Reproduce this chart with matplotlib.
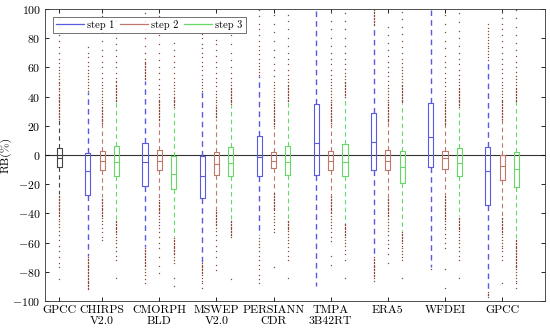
import matplotlib
matplotlib.use("Agg")
import matplotlib.pyplot as plt
from matplotlib.lines import Line2D

plt.rcParams['font.family'] = ['cmr10', 'DejaVu Serif']
plt.rcParams['axes.unicode_minus'] = False
plt.rcParams['axes.formatter.use_mathtext'] = True
plt.rcParams['mathtext.fontset'] = 'cm'

# ---------------- data ----------------
tick_labels = ['GPCC', 'CHIRPS\nV2.0', 'CMORPH\nBLD', 'MSWEP\nV2.0', 'PERSIANN\nCDR',
               'TMPA\n3B42RT', 'ERA5', 'WFDEI', 'GPCC']
series_names = ['step 1', 'step 2', 'step 3']
# box order: reference GPCC, then step1/2/3 for each of the 8 products
box_series = [-1] + [0, 1, 2] * 8

q3 = [4.5,
      1.1, 2.7, 6.3,
      7.9, 3.2, -0.7,
      -0.5, 1.8, 5.2,
      13.3, 2.2, 6.5,
      35.2, 2.5, 7.2,
      29.0, 3.2, 2.9,
      35.7, 2.9, 4.7,
      5.2, -0.2, 1.8]
med = [-2.0,
       -10.8, -3.8, -4.5,
       -4.5, -4.0, -13.0,
       -14.6, -6.1, -5.2,
       -1.6, -3.8, -4.5,
       8.3, -3.8, -4.5,
       9.2, -3.8, -8.3,
       12.3, -2.2, -5.2,
       -11.0, -7.6, -9.5]
q1 = [-8.3,
      -27.2, -10.1, -14.1,
      -21.1, -10.6, -23.1,
      -29.6, -13.7, -14.6,
      -14.1, -9.0, -13.7,
      -13.7, -10.1, -14.6,
      -10.3, -10.1, -19.1,
      -8.3, -9.4, -14.1,
      -34.1, -17.3, -21.8]
whis_hi = [24,
           43, 22, 36.5,
           51, 23.5, 32.5,
           43, 25, 34.5,
           54, 19, 36.5,
           99, 21, 39.5,
           88, 23, 35.5,
           99, 21, 32.5,
           64, 25, 37]
whis_lo = [-27,
           -69.5, -29, -44.5,
           -63, -31, -56.5,
           -73, -37, -44,
           -55, -25.5, -44,
           -90, -29, -47,
           -69.5, -30, -52,
           -77, -27.5, -42,
           -93, -43, -57]

out_hi = [
    [25,26,27,28,29,30,31,32,33,34,35,36,37,38,39,40,41,42,44,45,46,48,49,50,52,54,56,58,60,63,66,70,74,78,82,88,93],
    [44,46,48,50,52,54,56,58,61,64,67,70,74],
    [22,23,24,25,26,27,28,29,30,31,32,33,35,36,38,40,42,44,46,48,50,53,56,60,64,68,72,78,84,90,95],
    [37,38,39,40,41,42,43,44,45,46,47,48,50,51,53,56,60,64,68,72,76,80,86,92],
    [52,53,54,55,56,57,58,59,60,61,62,63,64,66,70,75,80,86,92,97],
    [24,25,26,27,28,29,30,31,32,33,34,35,36,37,38,40,42,45,48,52,56,60,65,70,76,82,88,95],
    [33,34,35,36,37,38,39,40,42,44,46,48,50,53,56,60,64,68,72,77],
    [44,46,48,50,52,55,58,61,64,67,70,73,76,80,83],
    [26,27,28,29,30,31,32,33,34,36,38,40,42,44,47,50,53,56,60,64,68,72,76,79],
    [35,36,37,38,39,40,41,42,43,44,45,46,48,50,53,56,60,65,70,76,82,88],
    [55,57,59,61,63,66,69,72,75,78,82,86,90,95,99],
    [20,21,22,23,24,25,26,27,28,29,30,31,32,33,34,35,36,38,40,42,44,46,48,50,54,58,62,67,72,78,84,90,96],
    [37,38,39,40,41,42,43,44,45,46,47,48,50,52,55,58,62,66,70,75,80,86,92,96],
    [],
    [22,23,24,25,26,27,28,29,30,31,32,33,34,35,36,38,40,42,44,46,48,50,52,55,58,62,66,70,75,80,86,92,98],
    [40,41,42,43,44,45,46,47,48,49,50,52,54,56,59,62,66,70,75,80,86,92,97],
    [89,90,91,92,93,94,95,96,97,98,99],
    [23,24,25,26,27,28,29,30,31,32,33,34,35,36,38,40,42,44,46,48,51,54,57,60,64,68,72,77,82,88],
    [36,37,38,39,40,41,42,43,44,45,46,47,48,50,52,54,56,58,60,63,66,70,74,78,83,88,93,98],
    [],
    [21,22,23,24,25,26,27,28,29,30,31,32,33,34,35,36,38,40,42,44,47,50,53,56,60,64,68,73,78,84,90,96],
    [33,34,35,36,37,38,39,40,41,42,43,44,45,46,48,50,52,55,58,62,66,70,75,80,85,91,97],
    [65,67,69,71,73,75,77,79,81,83,85,87,90],
    [25,26,27,28,29,30,31,32,33,34,35,36,37,38,40,42,44,46,48,50,53,56,59,62,66,70,74,78,82,86,90,94,98],
    [37,38,39,40,41,42,43,44,45,46,48,50,52,54,57,60,64,68,72,77,82,88,94,99],
]
out_lo = [
    [-28,-29,-30,-31,-32,-33,-34,-35,-36,-37,-38,-39,-40,-41,-42,-44,-45,-47,-49,-52,-55,-58,-62,-66,-70,-74,-77,-85],
    [-70,-71,-72,-73,-74,-75,-76,-77,-78,-79,-80,-81,-82,-83,-84,-85,-86,-87,-88,-89,-90,-91,-92],
    [-30,-31,-32,-33,-34,-35,-36,-37,-38,-39,-40,-41,-42,-43,-45,-47,-50,-53,-56,-58],
    [-45,-46,-47,-48,-49,-50,-51,-52,-53,-54,-56,-58,-60,-63,-66,-69,-72,-84],
    [-64,-65,-66,-67,-68,-69,-70,-71,-72,-73,-74,-75,-76,-78,-80,-82,-85,-88],
    [-31,-32,-33,-34,-35,-36,-37,-38,-39,-40,-42,-44,-46,-48,-50,-53,-56,-60,-64,-70,-76,-81],
    [-57,-58,-59,-60,-61,-62,-63,-64,-65,-66,-67,-68,-70,-72,-74,-84,-90],
    [-74,-75,-76,-77,-78,-79,-80,-81,-82,-84,-86,-88,-91],
    [-38,-39,-40,-41,-42,-43,-44,-45,-46,-47,-48,-50,-52,-55,-58,-62,-66,-70,-75,-79],
    [-45,-46,-47,-48,-49,-50,-51,-52,-53,-54,-55,-56,-85],
    [-57,-59,-61,-63,-66,-69,-72,-75,-78,-82,-85,-88],
    [-26,-27,-28,-29,-30,-31,-32,-33,-34,-35,-36,-37,-38,-40,-42,-44,-46,-48,-51,-53,-77],
    [-45,-46,-47,-48,-49,-50,-51,-52,-54,-56,-58,-60,-63,-66,-69,-72,-84],
    [],
    [-29,-30,-31,-32,-33,-34,-35,-36,-37,-38,-39,-40,-42,-44,-46,-48,-50,-53,-56,-59,-69,-75],
    [-47,-48,-49,-50,-51,-52,-53,-54,-55,-56,-58,-60,-62,-65,-68,-72,-84],
    [-70,-71,-72,-73,-74,-75,-76,-77,-78,-79,-80,-81,-82,-83,-84,-86],
    [-30,-31,-32,-33,-34,-35,-36,-37,-38,-39,-40,-41,-42,-44,-46,-48,-50,-52,-55,-58,-61,-64,-68,-74],
    [-53,-54,-55,-56,-57,-58,-59,-60,-62,-64,-66,-68,-70,-72,-84],
    [-78],
    [-28,-29,-30,-31,-32,-33,-34,-35,-36,-37,-38,-39,-40,-41,-42,-43,-44,-45,-47,-49,-51,-54,-57,-60,-64,-78,-91],
    [-43,-44,-45,-46,-47,-48,-49,-50,-51,-52,-54,-56,-58,-60,-63,-66,-69,-72,-84],
    [-94,-95,-96,-97],
    [-43,-44,-45,-46,-47,-48,-49,-50,-51,-52,-53,-54,-56,-58,-60,-62,-64,-66,-69,-72,-88],
    [-58,-59,-60,-61,-62,-63,-64,-65,-66,-67,-68,-69,-70,-71,-72,-73,-74,-75,-76,-77,-78,-80,-82,-84,-86,-88,-91],
]

# ---------------- style ----------------
colors = ['#5a5ae0', '#c0786a', '#66d866']
ref_color = '#444444'
flier_color = '#8a4a36'

# positions: reference at 1, then groups of three centred on 4, 8, ..., 32
positions = [1] + [4 * (k + 1) + s for k in range(8) for s in (-1, 0, 1)]
tick_pos = [1] + [4 * (k + 1) for k in range(8)]

fig = plt.figure(figsize=(5.5, 3.36), dpi=100)
ax = fig.add_axes([45 / 550, 1 - 301 / 336, 500 / 550, 292 / 336])

ax.axhline(0, color='#333333', lw=0.8, zorder=1)

for i in range(len(positions)):
    s = box_series[i]
    c = ref_color if s < 0 else colors[s]
    st = dict(med=med[i], q1=q1[i], q3=q3[i], whislo=whis_lo[i], whishi=whis_hi[i],
              fliers=out_lo[i] + out_hi[i])
    wlw = 1.0 if s == 0 else 0.8
    ax.bxp([st], positions=[positions[i]], widths=0.36, showcaps=False,
           boxprops=dict(color=c, lw=0.8),
           medianprops=dict(color=c, lw=0.8),
           whiskerprops=dict(color=c, lw=wlw, ls=(0, (4, 3))),
           flierprops=dict(marker='.', markerfacecolor=flier_color,
                           markeredgecolor='none', markersize=2.0,
                           linestyle='none'),
           manage_ticks=False, zorder=2)

ax.set_xlim(0, 35)
ax.set_ylim(-100, 100)
ax.set_yticks(range(-100, 101, 20))
ax.set_xticks(tick_pos)
ax.set_xticklabels(tick_labels)
ax.tick_params(direction='in', top=True, right=True, length=3, width=0.6,
               labelsize=8.5, pad=3)
for sp in ax.spines.values():
    sp.set_linewidth(0.6)
    sp.set_color('#333333')
ax.set_ylabel('RB(%)', fontsize=8.5)
ax.yaxis.set_label_coords(-0.066, 0.5)

handles = [Line2D([], [], color=colors[k], lw=0.9) for k in range(3)]
leg = ax.legend(handles, series_names, ncol=3, loc='upper left',
                bbox_to_anchor=(0.016, 0.974), fontsize=7.5, frameon=True,
                fancybox=False, edgecolor='#333333', handlelength=2.7,
                handletextpad=0.3, columnspacing=0.5, borderpad=0.3,
                borderaxespad=0.0)
leg.get_frame().set_linewidth(0.6)

fig.savefig('out.png', dpi=100)
